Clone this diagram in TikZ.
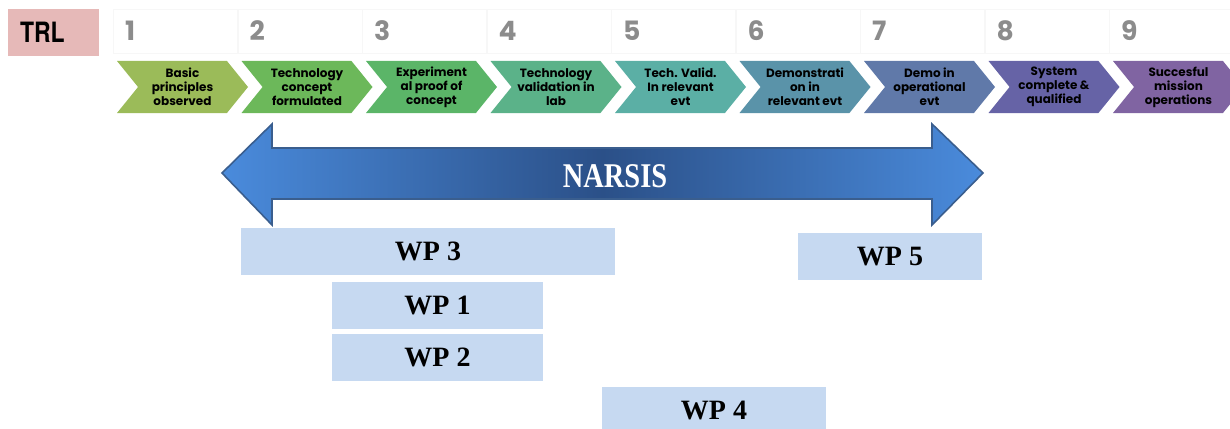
\documentclass[tikz,border=0pt]{standalone}
\usepackage{fontspec}
\usepackage{xcolor}
\usetikzlibrary{shapes.symbols}
\setmainfont{Liberation Serif}
\newfontfamily\gothic{Poppins}
\newfontfamily\trlfont[FakeStretch=0.82]{TeX Gyre Heros}
\newfontfamily\narfont[FakeStretch=0.82]{Liberation Serif}

\definecolor{trlpink}{HTML}{E6B9B8}
\definecolor{numgray}{HTML}{8C8C8C}
\definecolor{wpblue}{HTML}{C6D9F1}
\definecolor{arrowend}{HTML}{4A8BDC}
\definecolor{arrowmid}{HTML}{2B5088}
\definecolor{arrowline}{HTML}{3A5E8E}
\definecolor{c1}{HTML}{9BBB59}
\definecolor{c2}{HTML}{6CB85A}
\definecolor{c3}{HTML}{5BB568}
\definecolor{c4}{HTML}{5BB289}
\definecolor{c5}{HTML}{5BAFA5}
\definecolor{c6}{HTML}{5A93A9}
\definecolor{c7}{HTML}{6079A9}
\definecolor{c8}{HTML}{6663A6}
\definecolor{c9}{HTML}{8064A2}

\begin{document}
\begin{tikzpicture}[x=0.75pt, y=-0.75pt, font=\small]
\tikzstyle{chev}=[signal, signal from=west, signal to=east, signal pointer angle=102, minimum width=98.25pt, minimum height=39pt, inner sep=0pt, align=center, font=\gothic\bfseries\fontsize{9}{10.5}\selectfont]
\tikzstyle{cell}=[draw=black!3, minimum height=33pt, text width=75.75pt, inner xsep=9pt, align=left, font=\gothic\bfseries\fontsize{20}{20}\selectfont, text=numgray]
\tikzstyle{wp}=[fill=wpblue, minimum height=35.25pt, font=\bfseries\fontsize{21}{21}\selectfont]
\useasboundingbox (0,0) rectangle (1230,428);

\node[fill=trlpink, minimum height=35.25pt, text width=50.25pt, inner xsep=9pt, align=left, font=\trlfont\bfseries\fontsize{21}{21}\selectfont] (trl) at (53.5,32.5) {TRL};

% TRL scale
\foreach \i/\txt in {1/{Basic\\principles\\observed}, 2/{Technology\\concept\\formulated}, 3/{Experiment\\al proof of\\concept}, 4/{Technology\\validation in\\lab}, 5/{Tech. Valid.\\In relevant\\evt}, 6/{Demonstrati\\on in\\relevant evt}, 7/{Demo in\\operational\\evt}, 8/{System\\complete \&\\qualified}, 9/{Succesful\\mission\\operations}}
{
  \node[cell] (num\i) at ({175.5+124.5*(\i-1)},31) {\i};
  \node[chev, fill=c\i] (chev\i) at ({182.5+124.5*(\i-1)},87) {\txt};
}

% project span
\draw[draw=arrowline, line width=1.2pt, left color=arrowend, right color=arrowend, middle color=arrowmid] (222,173) -- (272,124) -- (272,148) -- (932,148) -- (932,124) -- (983,173) -- (932,225) -- (932,199) -- (272,199) -- (272,225) -- cycle;
\node[text=white, font=\narfont\bfseries\fontsize{26}{26}\selectfont] (narsis) at (615,176) {NARSIS};

% work packages
\node[wp, minimum width=280.5pt] (wp3) at (428,251.5) {WP 3};
\node[wp, minimum width=138pt] (wp5) at (890,256.5) {WP 5};
\node[wp, minimum width=158.25pt] (wp1) at (437.5,305.5) {WP 1};
\node[wp, minimum width=158.25pt] (wp2) at (437.5,357.5) {WP 2};
\node[wp, minimum width=168pt] (wp4) at (714,410.5) {WP 4};
\end{tikzpicture}
\end{document}
